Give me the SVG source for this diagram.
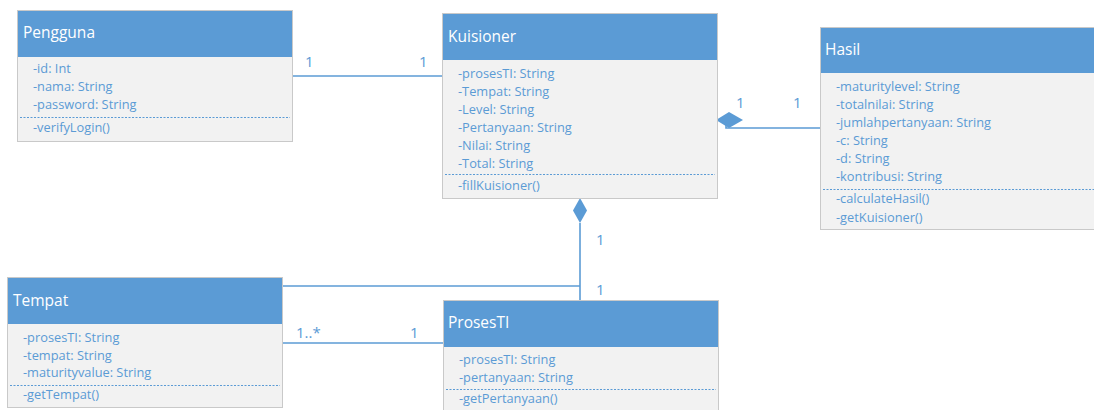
<svg xmlns="http://www.w3.org/2000/svg" width="1094" height="410" viewBox="0 0 1094 410">
  <style>
    .body { fill: #F2F2F2; stroke: #C9C9C9; stroke-width: 1; }
    .head { fill: #5B9BD5; }
    .title { font-family: "Open Sans", "Liberation Sans", sans-serif; font-size: 15.5px; fill: #FFFFFF; }
    .member { font-family: "Open Sans", "Liberation Sans", sans-serif; font-size: 12.8px; fill: #5B9BD5; }
    .sep { stroke: #5B9BD5; stroke-width: 1; stroke-dasharray: 2 1.5; }
    .edge { fill: none; stroke: #5B9BD5; stroke-width: 1.6; }
    .mult { font-family: "Open Sans", "Liberation Sans", sans-serif; font-size: 15px; fill: #5B9BD5; }
    .diamond { fill: #5B9BD5; }
  </style>
  <rect width="1094" height="410" fill="#FFFFFF"/>

  <!-- associations -->
  <g id="connectors">
    <line class="edge" x1="293" y1="76" x2="442" y2="76"/>
    <text class="mult" x="305" y="67">1</text>
    <text class="mult" x="419" y="67">1</text>

    <polygon class="diamond" points="716,120 729,112 743,120 729,128"/>
    <polyline class="edge" points="726,124 726,128 820,128"/>
    <text class="mult" x="736" y="108">1</text>
    <text class="mult" x="793" y="108">1</text>

    <polygon class="diamond" points="580,198 587,210.5 580,223 573,210.5"/>
    <line class="edge" x1="580" y1="223" x2="580" y2="300"/>
    <line class="edge" x1="283" y1="286" x2="580" y2="286"/>
    <text class="mult" x="596" y="245">1</text>
    <text class="mult" x="596" y="295">1</text>

    <line class="edge" x1="283" y1="343" x2="443" y2="343"/>
    <text class="mult" x="296" y="338">1..*</text>
    <text class="mult" x="410" y="338">1</text>
  </g>

  <g id="pengguna">
    <rect class="body" x="17.5" y="10.5" width="275" height="131"/>
    <rect class="head" x="18" y="11" width="274" height="46"/>
    <text class="title" x="23" y="38">Pengguna</text>
    <text class="member" x="33" y="73">-id: Int</text>
    <text class="member" x="33" y="91">-nama: String</text>
    <text class="member" x="33" y="109">-password: String</text>
    <line class="sep" x1="20" y1="117.5" x2="290" y2="117.5"/>
    <text class="member" x="33" y="132">-verifyLogin()</text>
  </g>

  <g id="kuisioner">
    <rect class="body" x="442.5" y="13.5" width="275" height="185"/>
    <rect class="head" x="443" y="14" width="274" height="46"/>
    <text class="title" x="448" y="42">Kuisioner</text>
    <text class="member" x="458" y="78">-prosesTI: String</text>
    <text class="member" x="458" y="96">-Tempat: String</text>
    <text class="member" x="458" y="114">-Level: String</text>
    <text class="member" x="458" y="132">-Pertanyaan: String</text>
    <text class="member" x="458" y="150">-Nilai: String</text>
    <text class="member" x="458" y="168">-Total: String</text>
    <line class="sep" x1="445" y1="174.5" x2="715" y2="174.5"/>
    <text class="member" x="458" y="190">-fillKuisioner()</text>
  </g>

  <g id="hasil">
    <rect class="body" x="820.5" y="27.5" width="280" height="202"/>
    <rect class="head" x="821" y="28" width="280" height="45"/>
    <text class="title" x="825" y="55">Hasil</text>
    <text class="member" x="836" y="91">-maturitylevel: String</text>
    <text class="member" x="836" y="109">-totalnilai: String</text>
    <text class="member" x="836" y="127">-jumlahpertanyaan: String</text>
    <text class="member" x="836" y="145">-c: String</text>
    <text class="member" x="836" y="163">-d: String</text>
    <text class="member" x="836" y="181">-kontribusi: String</text>
    <line class="sep" x1="823" y1="189.5" x2="1094" y2="189.5"/>
    <text class="member" x="836" y="203">-calculateHasil()</text>
    <text class="member" x="836" y="222">-getKuisioner()</text>
  </g>

  <g id="tempat">
    <rect class="body" x="7.5" y="277.5" width="275" height="130"/>
    <rect class="head" x="8" y="278" width="274" height="46"/>
    <text class="title" x="13" y="306">Tempat</text>
    <text class="member" x="23" y="342">-prosesTI: String</text>
    <text class="member" x="23" y="360">-tempat: String</text>
    <text class="member" x="23" y="377">-maturityvalue: String</text>
    <line class="sep" x1="10" y1="385.5" x2="280" y2="385.5"/>
    <text class="member" x="23" y="399">-getTempat()</text>
  </g>

  <g id="prosesti">
    <rect class="body" x="443.5" y="300.5" width="275" height="115"/>
    <rect class="head" x="444" y="301" width="274" height="46"/>
    <text class="title" x="448" y="328">ProsesTI</text>
    <text class="member" x="459" y="364">-prosesTI: String</text>
    <text class="member" x="459" y="382">-pertanyaan: String</text>
    <line class="sep" x1="446" y1="389.5" x2="716" y2="389.5"/>
    <text class="member" x="459" y="403">-getPertanyaan()</text>
  </g>
</svg>
